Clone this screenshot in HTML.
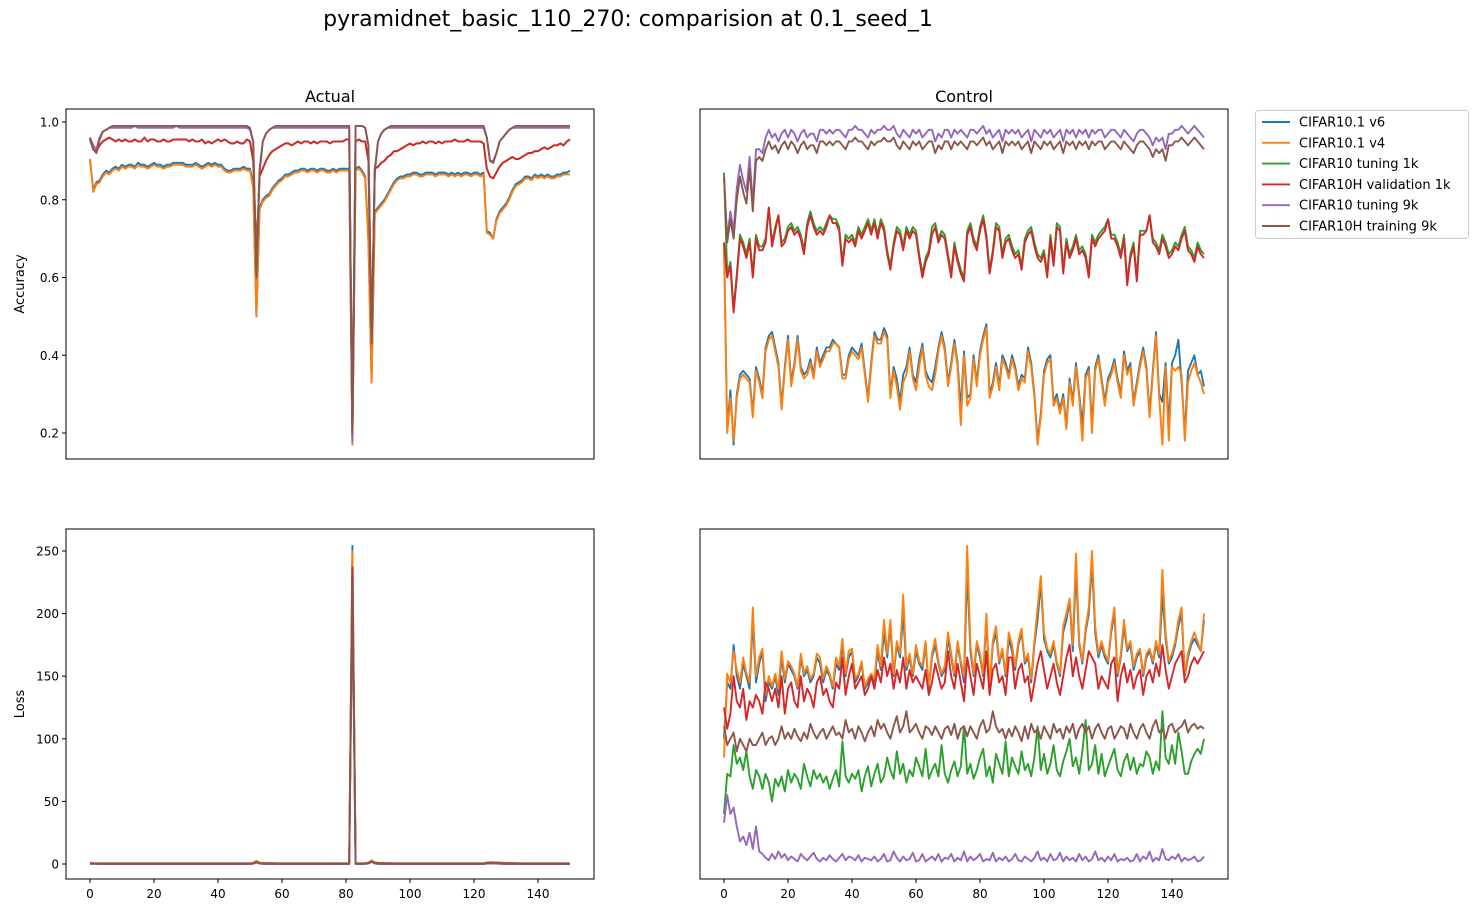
<!DOCTYPE html>
<html><head><meta charset="utf-8">
<style>
body{margin:0;background:#fff;}
svg{display:block;font-family:"DejaVu Sans","Liberation Sans",sans-serif;}
</style></head>
<body>
<svg id="fig" width="1477" height="913" viewBox="0 0 1477 913" xmlns="http://www.w3.org/2000/svg">
<rect width="1477" height="913" fill="#fff"/>
<text x="628" y="26" font-size="22" text-anchor="middle">pyramidnet_basic_110_270: comparision at 0.1_seed_1</text>
<text x="330" y="102" font-size="16" text-anchor="middle">Actual</text>
<text x="964" y="102" font-size="16" text-anchor="middle">Control</text>
<text x="0" y="0" font-size="13" text-anchor="middle" transform="translate(24,284) rotate(-90)">Accuracy</text>
<text x="0" y="0" font-size="13" text-anchor="middle" transform="translate(24,704) rotate(-90)">Loss</text>
<g id="plots"></g>
<g id="legend"></g>
</svg>
<script>
const seriesNames = ["CIFAR10.1 v6","CIFAR10.1 v4","CIFAR10 tuning 1k","CIFAR10H validation 1k","CIFAR10 tuning 9k","CIFAR10H training 9k"];
const seriesColors = ["#1f77b4","#ff7f0e","#2ca02c","#d62728","#9467bd","#8c564b"];
const xTicks = [0,20,40,60,80,100,120,140];
const accTicks = [0.2,0.4,0.6,0.8,1.0];
const lossTicks = [0,50,100,150,200,250];

// Actual accuracy
const actAccV6 = [.905,.825,.845,.85,.865,.875,.87,.88,.885,.88,.89,.885,.89,.89,.885,.895,.89,.89,.885,.89,.895,.89,.89,.885,.89,.89,.895,.895,.895,.895,.89,.89,.89,.895,.89,.885,.89,.895,.89,.895,.89,.89,.88,.875,.875,.88,.88,.88,.885,.88,.88,.84,.50,.78,.80,.81,.815,.83,.84,.85,.855,.865,.865,.87,.875,.875,.88,.88,.875,.88,.88,.875,.88,.88,.875,.875,.88,.875,.88,.88,.88,.88,.17,.88,.885,.875,.86,.70,.33,.77,.78,.79,.80,.815,.83,.845,.855,.86,.86,.865,.865,.87,.87,.865,.865,.87,.87,.87,.865,.87,.87,.87,.865,.87,.865,.87,.865,.87,.87,.865,.87,.87,.865,.87,.72,.715,.70,.75,.77,.78,.79,.805,.825,.84,.845,.85,.86,.86,.855,.865,.86,.865,.86,.865,.86,.86,.865,.865,.87,.87,.875];
const actAccV4 = [.905,.82,.84,.845,.86,.87,.865,.875,.88,.875,.885,.88,.885,.885,.88,.89,.885,.885,.88,.885,.89,.885,.885,.88,.885,.885,.89,.89,.89,.89,.885,.885,.885,.89,.885,.88,.885,.89,.885,.89,.885,.885,.875,.87,.87,.875,.875,.875,.88,.875,.875,.83,.50,.775,.795,.805,.81,.825,.835,.845,.85,.86,.86,.865,.87,.87,.875,.875,.87,.875,.875,.87,.875,.875,.87,.87,.875,.87,.875,.875,.875,.875,.17,.875,.88,.87,.855,.69,.33,.765,.775,.785,.795,.81,.825,.84,.85,.855,.855,.86,.86,.865,.865,.86,.86,.865,.865,.865,.86,.865,.865,.865,.86,.865,.86,.865,.86,.865,.865,.86,.865,.865,.86,.865,.715,.71,.70,.745,.765,.775,.785,.80,.82,.835,.84,.845,.855,.855,.85,.86,.855,.86,.855,.86,.855,.855,.86,.86,.865,.865,.865];
const actAccT1k = [.955,.93,.925,.94,.95,.955,.96,.955,.95,.955,.95,.955,.95,.95,.955,.95,.95,.96,.95,.955,.955,.95,.95,.955,.95,.95,.955,.955,.955,.955,.955,.95,.955,.95,.95,.955,.945,.95,.945,.95,.955,.95,.955,.95,.945,.945,.95,.945,.945,.955,.95,.90,.66,.86,.88,.90,.915,.925,.93,.935,.94,.945,.945,.94,.945,.95,.945,.95,.95,.945,.95,.945,.95,.95,.95,.945,.95,.95,.95,.95,.955,.955,.19,.95,.955,.95,.95,.90,.44,.88,.885,.895,.90,.91,.915,.925,.925,.93,.935,.94,.945,.94,.945,.945,.95,.945,.95,.95,.945,.95,.945,.95,.95,.95,.955,.95,.95,.95,.955,.95,.95,.95,.95,.945,.88,.86,.855,.87,.885,.895,.90,.905,.91,.905,.905,.91,.915,.92,.92,.925,.925,.93,.935,.93,.935,.94,.94,.945,.94,.95,.955];
const actAccV1k = [.955,.93,.925,.94,.95,.955,.96,.955,.95,.955,.95,.955,.95,.95,.955,.95,.95,.96,.95,.955,.955,.95,.95,.955,.95,.95,.955,.955,.955,.955,.955,.95,.955,.95,.95,.955,.945,.95,.945,.95,.955,.95,.955,.95,.945,.945,.95,.945,.945,.955,.95,.90,.66,.86,.88,.90,.915,.925,.93,.935,.94,.945,.945,.94,.945,.95,.945,.95,.95,.945,.95,.945,.95,.95,.95,.945,.95,.95,.95,.95,.955,.955,.19,.95,.955,.95,.95,.90,.44,.88,.885,.895,.90,.91,.915,.925,.925,.93,.935,.94,.945,.94,.945,.945,.95,.945,.95,.95,.945,.95,.945,.95,.95,.95,.955,.95,.95,.95,.955,.95,.95,.95,.95,.945,.88,.86,.855,.87,.885,.895,.90,.905,.91,.905,.905,.91,.915,.92,.92,.925,.925,.93,.935,.93,.935,.94,.94,.945,.94,.95,.955];
const actAccT9k = [.96,.94,.93,.96,.975,.98,.985,.985,.985,.985,.985,.985,.985,.985,.99,.985,.985,.985,.985,.985,.985,.985,.985,.985,.985,.985,.985,.99,.985,.985,.985,.985,.985,.985,.985,.985,.985,.985,.985,.985,.985,.985,.985,.985,.985,.985,.985,.985,.985,.985,.98,.95,.62,.88,.95,.97,.98,.985,.985,.985,.985,.985,.985,.985,.985,.985,.985,.985,.985,.985,.985,.985,.985,.985,.985,.985,.985,.985,.985,.985,.985,.985,.18,.99,.99,.99,.985,.94,.45,.88,.95,.97,.98,.985,.985,.985,.985,.985,.985,.985,.985,.985,.985,.985,.985,.985,.985,.985,.985,.985,.985,.985,.985,.985,.985,.985,.985,.985,.985,.985,.985,.985,.985,.985,.96,.90,.90,.92,.95,.96,.97,.98,.985,.985,.985,.985,.985,.985,.985,.985,.985,.985,.985,.985,.985,.985,.985,.985,.985,.985,.985];
const actAccTr9k = [.96,.93,.92,.955,.975,.98,.985,.99,.99,.99,.99,.99,.99,.99,.99,.99,.99,.99,.99,.99,.99,.99,.99,.99,.99,.99,.99,.99,.99,.99,.99,.99,.99,.99,.99,.99,.99,.99,.99,.99,.99,.99,.99,.99,.99,.99,.99,.99,.99,.99,.985,.95,.60,.87,.95,.97,.98,.985,.99,.99,.99,.99,.99,.99,.99,.99,.99,.99,.99,.99,.99,.99,.99,.99,.99,.99,.99,.99,.99,.99,.99,.99,.20,.99,.99,.99,.985,.94,.43,.87,.95,.97,.98,.985,.99,.99,.99,.99,.99,.99,.99,.99,.99,.99,.99,.99,.99,.99,.99,.99,.99,.99,.99,.99,.99,.99,.99,.99,.99,.99,.99,.99,.99,.99,.96,.90,.895,.92,.95,.96,.97,.98,.985,.99,.99,.99,.99,.99,.99,.99,.99,.99,.99,.99,.99,.99,.99,.99,.99,.99,.99];

// Control accuracy
const ctlAccV6 = [.69,.21,.31,.17,.30,.35,.36,.35,.34,.25,.37,.34,.30,.42,.45,.46,.42,.38,.27,.37,.45,.33,.38,.45,.37,.35,.36,.39,.35,.42,.38,.40,.42,.42,.44,.43,.42,.35,.35,.40,.42,.41,.40,.43,.36,.29,.38,.46,.44,.44,.47,.45,.30,.37,.34,.28,.35,.37,.42,.35,.33,.39,.43,.36,.34,.33,.37,.42,.46,.42,.33,.38,.44,.38,.26,.41,.29,.30,.40,.33,.41,.45,.48,.30,.33,.38,.32,.40,.38,.35,.40,.37,.32,.35,.34,.42,.38,.30,.18,.25,.36,.39,.40,.28,.30,.26,.30,.22,.34,.28,.38,.30,.22,.35,.37,.22,.37,.40,.34,.28,.34,.36,.39,.34,.30,.41,.36,.38,.28,.33,.38,.42,.37,.25,.36,.46,.30,.28,.38,.22,.38,.40,.44,.33,.20,.36,.38,.40,.35,.36,.32];
const ctlAccV4 = [.69,.20,.29,.18,.29,.34,.35,.34,.33,.24,.36,.33,.29,.41,.44,.45,.41,.37,.26,.36,.44,.32,.37,.44,.36,.34,.35,.38,.34,.41,.37,.39,.41,.41,.43,.43,.42,.34,.34,.39,.41,.40,.39,.42,.35,.28,.37,.45,.43,.43,.46,.44,.29,.36,.32,.26,.33,.35,.41,.34,.31,.37,.42,.35,.32,.31,.35,.41,.45,.41,.32,.37,.43,.37,.22,.40,.27,.29,.39,.32,.40,.44,.47,.29,.32,.37,.31,.39,.37,.34,.39,.36,.31,.34,.33,.41,.37,.29,.17,.24,.35,.38,.39,.27,.29,.25,.29,.21,.33,.27,.37,.29,.18,.34,.36,.20,.36,.39,.33,.27,.33,.35,.38,.33,.29,.40,.35,.37,.27,.32,.37,.41,.36,.24,.35,.45,.29,.17,.37,.18,.37,.36,.37,.35,.18,.33,.36,.38,.35,.33,.30];
const ctlAccT1k = [.87,.61,.64,.52,.61,.71,.69,.66,.70,.61,.71,.68,.68,.70,.78,.69,.73,.76,.69,.70,.73,.74,.72,.73,.71,.67,.74,.77,.74,.72,.73,.72,.74,.76,.75,.75,.73,.64,.71,.70,.71,.69,.73,.71,.73,.75,.72,.75,.71,.75,.73,.67,.63,.69,.73,.72,.68,.73,.71,.73,.72,.66,.61,.65,.67,.73,.74,.70,.72,.71,.66,.61,.69,.65,.62,.60,.72,.74,.70,.68,.73,.76,.71,.62,.67,.74,.73,.66,.70,.71,.68,.66,.67,.63,.70,.72,.73,.69,.66,.65,.67,.61,.71,.64,.74,.73,.62,.70,.66,.68,.71,.67,.68,.66,.61,.71,.69,.71,.72,.73,.75,.71,.71,.69,.66,.71,.59,.66,.69,.60,.72,.72,.72,.76,.70,.69,.67,.71,.69,.66,.67,.69,.68,.71,.73,.68,.67,.65,.69,.67,.66];
const ctlAccV1k = [.69,.60,.63,.51,.60,.70,.68,.65,.69,.60,.70,.67,.67,.69,.78,.68,.72,.76,.68,.69,.72,.73,.71,.72,.70,.66,.73,.76,.73,.71,.72,.71,.73,.76,.74,.74,.72,.63,.70,.69,.70,.68,.72,.70,.72,.74,.71,.74,.70,.74,.72,.66,.62,.68,.72,.71,.67,.72,.70,.72,.71,.65,.60,.64,.66,.71,.73,.69,.71,.70,.65,.60,.68,.64,.61,.59,.71,.73,.69,.67,.72,.75,.70,.61,.66,.73,.72,.65,.69,.70,.67,.65,.66,.62,.69,.71,.72,.68,.65,.64,.66,.60,.70,.63,.73,.72,.61,.69,.65,.67,.70,.66,.67,.65,.60,.70,.68,.70,.71,.72,.75,.70,.70,.68,.65,.70,.58,.65,.68,.59,.71,.71,.72,.76,.69,.68,.66,.70,.68,.65,.66,.68,.67,.70,.72,.67,.66,.64,.68,.66,.65];
const ctlAccT9k = [.86,.70,.77,.72,.83,.89,.85,.82,.91,.79,.93,.93,.92,.96,.98,.96,.97,.95,.97,.98,.96,.98,.97,.95,.97,.98,.96,.97,.97,.95,.98,.98,.97,.98,.97,.98,.98,.97,.96,.98,.98,.99,.98,.98,.97,.96,.98,.97,.98,.98,.99,.98,.98,.99,.97,.96,.98,.97,.96,.98,.97,.98,.96,.97,.98,.98,.95,.97,.96,.98,.98,.96,.98,.97,.98,.97,.96,.98,.98,.97,.98,.99,.97,.98,.96,.97,.98,.95,.98,.97,.98,.97,.98,.96,.97,.98,.95,.98,.97,.96,.98,.97,.98,.96,.97,.98,.95,.98,.97,.98,.96,.98,.97,.98,.96,.98,.97,.98,.98,.96,.97,.98,.98,.97,.96,.98,.97,.96,.95,.97,.98,.98,.97,.96,.94,.96,.95,.96,.93,.97,.97,.98,.98,.99,.98,.97,.98,.99,.98,.97,.96];
const ctlAccTr9k = [.86,.69,.75,.70,.80,.86,.82,.79,.88,.77,.90,.91,.90,.93,.95,.93,.94,.92,.94,.95,.93,.95,.94,.92,.94,.95,.93,.94,.94,.92,.95,.95,.94,.95,.94,.95,.95,.94,.93,.95,.95,.96,.95,.95,.94,.93,.95,.94,.95,.95,.96,.95,.95,.96,.94,.93,.95,.94,.93,.95,.94,.95,.93,.94,.95,.95,.92,.94,.93,.95,.95,.93,.95,.94,.95,.94,.93,.95,.95,.94,.95,.96,.94,.95,.93,.94,.95,.92,.95,.94,.95,.94,.95,.93,.94,.95,.92,.95,.94,.93,.95,.94,.95,.93,.94,.95,.92,.95,.94,.95,.93,.95,.94,.95,.93,.95,.94,.95,.95,.93,.94,.95,.95,.94,.93,.95,.94,.93,.92,.94,.95,.95,.94,.93,.91,.93,.92,.93,.90,.94,.94,.95,.95,.96,.95,.94,.95,.96,.95,.94,.93];

// Actual loss
const actLossV6 = [1,.6,.5,.5,.5,.5,.5,.5,.5,.5,.5,.5,.5,.5,.5,.5,.5,.5,.5,.5,.5,.5,.5,.5,.5,.5,.5,.5,.5,.5,.5,.5,.5,.5,.5,.5,.5,.5,.5,.5,.5,.5,.5,.5,.5,.5,.5,.5,.5,.5,.5,1,2.5,1,.8,.7,.6,.6,.5,.5,.5,.5,.5,.5,.5,.5,.5,.5,.5,.5,.5,.5,.5,.5,.5,.5,.5,.5,.5,.5,.5,.5,254,.5,.5,.5,.6,1,2.8,1.2,.9,.8,.7,.6,.6,.5,.5,.5,.5,.5,.5,.5,.5,.5,.5,.5,.5,.5,.5,.5,.5,.5,.5,.5,.5,.5,.5,.5,.5,.5,.5,.5,.5,.5,1.2,1.3,1.3,1.1,1,.9,.8,.7,.6,.6,.5,.5,.5,.5,.5,.5,.5,.5,.5,.5,.5,.5,.5,.5,.5,.5,.5];
const actLossV4 = [1,.6,.5,.5,.5,.5,.5,.5,.5,.5,.5,.5,.5,.5,.5,.5,.5,.5,.5,.5,.5,.5,.5,.5,.5,.5,.5,.5,.5,.5,.5,.5,.5,.5,.5,.5,.5,.5,.5,.5,.5,.5,.5,.5,.5,.5,.5,.5,.5,.5,.5,1,2.5,1,.8,.7,.6,.6,.5,.5,.5,.5,.5,.5,.5,.5,.5,.5,.5,.5,.5,.5,.5,.5,.5,.5,.5,.5,.5,.5,.5,.5,250,.5,.5,.5,.6,1,2.8,1.2,.9,.8,.7,.6,.6,.5,.5,.5,.5,.5,.5,.5,.5,.5,.5,.5,.5,.5,.5,.5,.5,.5,.5,.5,.5,.5,.5,.5,.5,.5,.5,.5,.5,.5,1.2,1.3,1.3,1.1,1,.9,.8,.7,.6,.6,.5,.5,.5,.5,.5,.5,.5,.5,.5,.5,.5,.5,.5,.5,.5,.5,.5];
const actLossT1k = [.5,.4,.4,.3,.3,.3,.3,.3,.3,.3,.3,.3,.3,.3,.3,.3,.3,.3,.3,.3,.3,.3,.3,.3,.3,.3,.3,.3,.3,.3,.3,.3,.3,.3,.3,.3,.3,.3,.3,.3,.3,.3,.3,.3,.3,.3,.3,.3,.3,.3,.3,.6,1.5,.6,.5,.4,.4,.4,.3,.3,.3,.3,.3,.3,.3,.3,.3,.3,.3,.3,.3,.3,.3,.3,.3,.3,.3,.3,.3,.3,.3,.3,230,.3,.3,.3,.4,.7,2,.8,.6,.5,.4,.4,.4,.3,.3,.3,.3,.3,.3,.3,.3,.3,.3,.3,.3,.3,.3,.3,.3,.3,.3,.3,.3,.3,.3,.3,.3,.3,.3,.3,.3,.3,.8,.9,.9,.8,.7,.6,.5,.5,.4,.4,.3,.3,.3,.3,.3,.3,.3,.3,.3,.3,.3,.3,.3,.3,.3,.3,.3];
const actLossV1k = [.5,.4,.4,.3,.3,.3,.3,.3,.3,.3,.3,.3,.3,.3,.3,.3,.3,.3,.3,.3,.3,.3,.3,.3,.3,.3,.3,.3,.3,.3,.3,.3,.3,.3,.3,.3,.3,.3,.3,.3,.3,.3,.3,.3,.3,.3,.3,.3,.3,.3,.3,.6,1.5,.6,.5,.4,.4,.4,.3,.3,.3,.3,.3,.3,.3,.3,.3,.3,.3,.3,.3,.3,.3,.3,.3,.3,.3,.3,.3,.3,.3,.3,237,.3,.3,.3,.4,.7,2,.8,.6,.5,.4,.4,.4,.3,.3,.3,.3,.3,.3,.3,.3,.3,.3,.3,.3,.3,.3,.3,.3,.3,.3,.3,.3,.3,.3,.3,.3,.3,.3,.3,.3,.3,.8,.9,.9,.8,.7,.6,.5,.5,.4,.4,.3,.3,.3,.3,.3,.3,.3,.3,.3,.3,.3,.3,.3,.3,.3,.3,.3];
const actLossT9k = [.2,.2,.2,.1,.1,.1,.1,.1,.1,.1,.1,.1,.1,.1,.1,.1,.1,.1,.1,.1,.1,.1,.1,.1,.1,.1,.1,.1,.1,.1,.1,.1,.1,.1,.1,.1,.1,.1,.1,.1,.1,.1,.1,.1,.1,.1,.1,.1,.1,.1,.1,.3,1.2,.4,.2,.1,.1,.1,.1,.1,.1,.1,.1,.1,.1,.1,.1,.1,.1,.1,.1,.1,.1,.1,.1,.1,.1,.1,.1,.1,.1,.1,215,.1,.1,.1,.2,.5,1.8,.5,.2,.1,.1,.1,.1,.1,.1,.1,.1,.1,.1,.1,.1,.1,.1,.1,.1,.1,.1,.1,.1,.1,.1,.1,.1,.1,.1,.1,.1,.1,.1,.1,.1,.1,.4,.5,.5,.4,.3,.2,.1,.1,.1,.1,.1,.1,.1,.1,.1,.1,.1,.1,.1,.1,.1,.1,.1,.1,.1,.1,.1];
const actLossTr9k = [.2,.2,.2,.1,.1,.1,.1,.1,.1,.1,.1,.1,.1,.1,.1,.1,.1,.1,.1,.1,.1,.1,.1,.1,.1,.1,.1,.1,.1,.1,.1,.1,.1,.1,.1,.1,.1,.1,.1,.1,.1,.1,.1,.1,.1,.1,.1,.1,.1,.1,.1,.3,1.2,.4,.2,.1,.1,.1,.1,.1,.1,.1,.1,.1,.1,.1,.1,.1,.1,.1,.1,.1,.1,.1,.1,.1,.1,.1,.1,.1,.1,.1,225,.1,.1,.1,.2,.5,1.8,.5,.2,.1,.1,.1,.1,.1,.1,.1,.1,.1,.1,.1,.1,.1,.1,.1,.1,.1,.1,.1,.1,.1,.1,.1,.1,.1,.1,.1,.1,.1,.1,.1,.1,.1,.4,.5,.5,.4,.3,.2,.1,.1,.1,.1,.1,.1,.1,.1,.1,.1,.1,.1,.1,.1,.1,.1,.1,.1,.1,.1,.1];

// Control loss
const ctlLossV6 = [100,145,140,175,150,140,160,150,140,195,145,160,170,130,145,140,150,135,165,145,160,155,150,140,165,150,155,145,150,165,160,145,155,150,140,160,155,175,150,165,170,145,150,160,140,145,150,145,170,155,185,165,190,150,175,165,200,155,165,150,170,160,155,175,140,165,175,160,150,155,180,165,150,175,160,145,235,170,150,175,165,150,195,140,175,185,160,170,150,180,170,155,175,185,160,165,145,175,195,225,180,170,165,175,160,150,185,195,210,170,235,175,160,185,200,240,185,165,175,165,160,185,200,150,165,190,170,175,155,165,170,150,165,170,160,175,165,215,180,160,165,175,190,200,150,165,175,180,175,170,195];
const ctlLossV4 = [85,152,145,170,155,145,165,152,145,205,150,165,172,135,150,142,152,140,170,148,162,158,152,142,168,152,158,148,152,168,165,148,158,152,142,165,158,180,152,170,172,148,152,162,142,148,152,148,175,158,195,168,195,152,178,168,215,158,168,152,175,162,158,178,142,168,180,162,152,158,185,168,152,178,162,150,254,175,152,178,168,152,200,142,178,190,162,172,152,185,175,158,178,188,162,168,148,178,205,230,185,172,168,178,162,152,190,200,212,175,248,178,162,188,205,250,190,168,178,168,162,188,205,152,168,195,172,178,158,168,172,152,168,172,162,178,168,235,185,162,168,178,195,205,152,168,178,185,178,170,200];
const ctlLossT1k = [40,72,70,95,80,85,75,90,70,60,75,70,60,72,65,50,68,62,70,58,75,65,72,68,60,80,70,62,75,68,72,65,70,60,68,75,62,98,70,65,72,68,75,58,70,78,62,72,80,65,70,85,75,68,90,72,80,65,75,70,85,78,70,92,68,75,80,70,95,72,65,75,82,70,78,110,72,80,68,75,85,92,70,78,65,88,80,72,98,70,85,78,72,90,75,80,70,85,110,75,88,72,80,95,75,70,82,90,100,78,85,72,90,115,75,80,95,72,88,70,78,85,92,75,70,82,88,75,85,72,80,78,90,85,72,82,75,122,85,80,95,80,105,90,72,72,82,88,92,88,100];
const ctlLossV1k = [125,108,120,150,130,125,140,115,130,125,135,130,120,145,140,130,140,125,150,120,140,145,130,125,150,130,140,135,125,145,150,135,140,130,125,145,140,165,135,150,160,140,145,150,135,140,150,140,155,145,165,150,160,140,155,145,165,140,155,145,150,145,140,155,135,145,160,150,140,145,170,150,140,160,145,130,165,150,135,160,150,140,170,135,155,160,145,150,135,165,165,140,155,160,145,150,130,145,160,170,155,140,150,160,145,135,150,165,175,150,165,150,140,155,170,165,160,140,150,145,140,160,165,130,150,160,145,155,140,150,155,135,150,155,145,160,150,175,155,140,150,160,165,170,145,150,160,165,160,165,170];
const ctlLossT9k = [33,55,40,45,30,18,22,15,25,12,30,10,8,5,3,8,4,10,5,8,3,6,4,2,8,5,3,6,9,4,2,5,3,7,4,2,5,8,3,6,5,3,7,2,5,4,3,6,2,4,8,2,3,10,5,2,6,3,4,9,2,3,8,2,4,6,3,8,2,5,4,8,2,5,3,10,2,6,3,5,8,2,4,3,9,2,5,3,6,2,4,8,3,2,6,4,2,5,10,3,5,2,8,3,4,9,2,6,3,5,2,8,3,6,2,4,10,3,5,2,6,3,8,2,4,3,5,2,3,8,2,6,4,10,2,5,3,12,4,3,6,4,8,2,5,3,4,6,2,3,6];
const ctlLossTr9k = [110,95,100,105,90,100,95,90,100,95,95,100,105,95,100,102,95,100,110,100,105,100,108,102,98,105,100,112,105,100,105,108,100,105,110,103,105,100,115,105,108,100,110,105,98,105,110,102,115,108,112,105,100,110,118,105,110,122,105,108,112,105,100,110,108,103,110,105,100,108,110,103,112,100,108,110,102,110,105,100,110,115,105,108,122,110,105,108,100,108,102,110,105,98,110,100,112,105,108,100,110,105,100,112,105,108,100,110,105,112,100,108,112,105,110,100,108,112,105,100,108,110,100,105,110,108,100,112,105,100,108,112,105,100,110,115,105,108,100,110,112,105,108,110,115,105,110,112,108,110,108];

const NS = "http://www.w3.org/2000/svg";
const plots = document.getElementById("plots");
function mk(tag, attrs, parent){const e=document.createElementNS(NS,tag);for(const k in attrs)e.setAttribute(k,attrs[k]);parent.appendChild(e);return e;}

const panels = [
 {name:"actual-accuracy", x0:66, y0:109, series:[actAccV6,actAccV4,actAccT1k,actAccV1k,actAccT9k,actAccTr9k], yMin:0.2, yMinPx:433, yMax:1.0, yMaxPx:122, yticks:accTicks, showY:true, showX:false, fmt:v=>v.toFixed(1)},
 {name:"control-accuracy", x0:700, y0:109, series:[ctlAccV6,ctlAccV4,ctlAccT1k,ctlAccV1k,ctlAccT9k,ctlAccTr9k], yMin:0.2, yMinPx:433, yMax:1.0, yMaxPx:122, yticks:accTicks, showY:false, showX:false, fmt:v=>v.toFixed(1)},
 {name:"actual-loss", x0:66, y0:529, series:[actLossV6,actLossV4,actLossT1k,actLossV1k,actLossT9k,actLossTr9k], yMin:0, yMinPx:864, yMax:250, yMaxPx:551, yticks:lossTicks, showY:true, showX:true, fmt:v=>String(v)},
 {name:"control-loss", x0:700, y0:529, series:[ctlLossV6,ctlLossV4,ctlLossT1k,ctlLossV1k,ctlLossT9k,ctlLossTr9k], yMin:0, yMinPx:864, yMax:250, yMaxPx:551, yticks:lossTicks, showY:false, showX:true, fmt:v=>String(v)}
];
const W=528,H=350;
panels.forEach(p=>{
  const g=mk("g",{},plots);
  
  
  const xs=v=>p.x0+(v+7.5)/165*W;
  const ys=v=>p.yMaxPx+(p.yMax-v)/(p.yMax-p.yMin)*(p.yMinPx-p.yMaxPx);
  const clip=mk("clipPath",{id:"c-"+p.name},g);
  mk("rect",{x:p.x0,y:p.y0,width:W,height:H},clip);
  const lg=mk("g",{"clip-path":"url(#c-"+p.name+")"},g);
  p.series.forEach((arr,si)=>{
    const d=arr.map((v,i)=>(i?"L":"M")+xs(i).toFixed(2)+","+ys(v).toFixed(2)).join("");
    const path=mk("path",{d:d,fill:"none",stroke:seriesColors[si],"stroke-width":1.9,"stroke-linejoin":"round"},lg);
    
    
  });
  const frame=mk("rect",{x:p.x0,y:p.y0,width:W,height:H,fill:"none",stroke:"#000","stroke-width":1},g);
  
  
  if(p.showY){p.yticks.forEach(t=>{
    const y=ys(t);
    mk("line",{x1:p.x0-4,x2:p.x0,y1:y,y2:y,stroke:"#000"},g);
    const tx=mk("text",{x:p.x0-7,y:y+4.5,"font-size":12,"text-anchor":"end"},g);
    tx.textContent=p.fmt(t);
    
    
  });}
  if(p.showX){xTicks.forEach(t=>{
    const x=xs(t);
    mk("line",{x1:x,x2:x,y1:p.y0+H,y2:p.y0+H+4,stroke:"#000"},g);
    const tx=mk("text",{x:x,y:p.y0+H+19,"font-size":12,"text-anchor":"middle"},g);
    tx.textContent=String(t);
    
    
  });}
});
const lgd=document.getElementById("legend");
mk("rect",{x:1255.5,y:110.5,width:213,height:128,rx:3,fill:"#fff",stroke:"#ccc"},lgd);
seriesNames.forEach((n,i)=>{
  const y=122+i*20.8;
  const e=mk("g",{},lgd);
  
  
  mk("line",{x1:1262,x2:1290,y1:y,y2:y,stroke:seriesColors[i],"stroke-width":1.9},e);
  const t=mk("text",{x:1299,y:y+4.5,"font-size":13},e);
  t.textContent=n;
});
</script>
</body></html>
